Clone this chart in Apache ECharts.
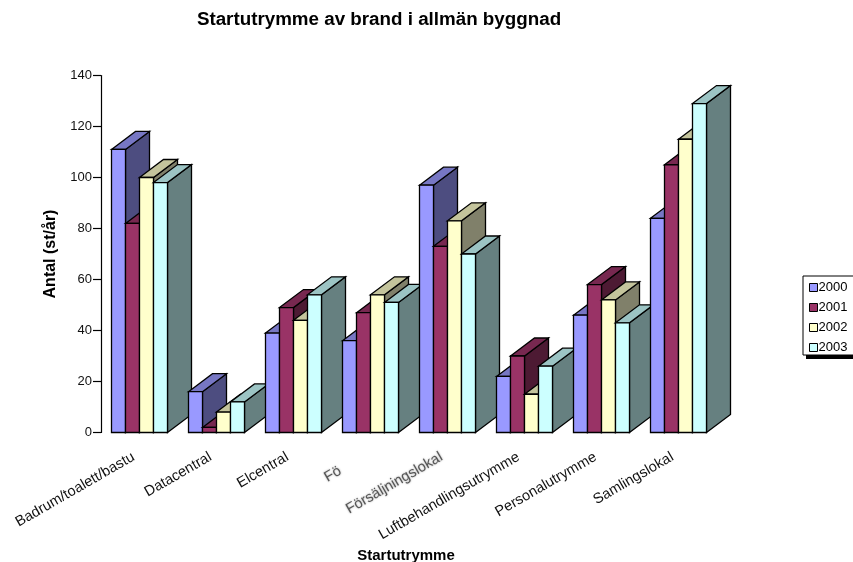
<!DOCTYPE html>
<html>
<head>
<meta charset="utf-8">
<style>html,body{margin:0;padding:0;background:#fff}#chart{width:853px;height:562px}</style>
<script src="https://cdn.jsdelivr.net/npm/echarts@6/dist/echarts.min.js"></script>
</head>
<body>
<div id="chart"></div>
<script>
const categories = ['Badrum/toalett/bastu','Datacentral','Elcentral','Fö','Försäljningslokal','Luftbehandlingsutrymme','Personalutrymme','Samlingslokal'];
const years = ['2000','2001','2002','2003'];
const values2000 = [111,16,39,36,97,22,46,84];
const values2001 = [82,2,49,47,73,30,58,105];
const values2002 = [100,8,44,54,83,15,52,115];
const values2003 = [98,12,54,51,70,26,43,129];
const yearValues = [values2000,values2001,values2002,values2003];
const frontColors = ['#9999FF','#993366','#FFFFCC','#CCFFFF'];
const topColors = ['#7777C4','#772850','#C4C49C','#9CC4C4'];
const sideColors = ['#4D4D80','#4D1A33','#80806A','#668080'];

const FONT = '"Liberation Sans", Arial, sans-serif';
const DEPTH_X = 24, DEPTH_Y = 18;   // oblique projection of the bar depth
const BAR_SHARE = 14 / 77;          // bar width as a share of the category band

function renderBar(seriesIndex) {
  return function (params, api) {
    const cat = api.value(0), val = api.value(1);
    const band = api.size([1, 0])[0];
    const w = band * BAR_SHARE;
    const base = api.coord([cat, 0]);
    const top = api.coord([cat, val]);
    const x0 = base[0] + (seriesIndex - 2) * w;
    const x1 = x0 + w;
    const yT = top[1], yB = base[1];
    const order = cat * 10 + seriesIndex;
    const line = {stroke: '#000', lineWidth: 1.3, lineJoin: 'miter'};
    return {
      type: 'group',
      children: [
        {type: 'polygon', z2: order,
         shape: {points: [[x1,yB],[x1+DEPTH_X,yB-DEPTH_Y],[x1+DEPTH_X,yT-DEPTH_Y],[x1,yT]]},
         style: Object.assign({fill: sideColors[seriesIndex]}, line)},
        {type: 'polygon', z2: order,
         shape: {points: [[x0,yT],[x0+DEPTH_X,yT-DEPTH_Y],[x1+DEPTH_X,yT-DEPTH_Y],[x1,yT]]},
         style: Object.assign({fill: topColors[seriesIndex]}, line)},
        {type: 'rect', z2: order,
         shape: {x: x0, y: yT, width: w, height: yB - yT},
         style: Object.assign({fill: frontColors[seriesIndex]}, line)}
      ]
    };
  };
}

const chart = echarts.init(document.getElementById('chart'), null, {renderer: 'canvas'});
chart.setOption({
  animation: false,
  backgroundColor: '#fff',
  textStyle: {fontFamily: FONT},
  title: {
    text: 'Startutrymme av brand i allmän byggnad',
    left: 374, top: 5, textAlign: 'center',
    textStyle: {fontFamily: FONT, fontSize: 18.8, fontWeight: 'bold', color: '#000'}
  },
  // drop shadow under the legend frame
  graphic: [{
    type: 'rect', z: 1, silent: true,
    shape: {x: 806, y: 279, width: 60, height: 80},
    style: {fill: '#000'}
  }],
  legend: {
    orient: 'vertical', left: 803, top: 276, z: 4,
    data: years, icon: 'rect', itemWidth: 8, itemHeight: 8, itemGap: 7,
    padding: [5, 14, 1, 6],
    backgroundColor: '#fff', borderColor: '#000', borderWidth: 1,
    selectedMode: false,
    textStyle: {fontFamily: FONT, fontSize: 13, color: '#000', padding: [0,0,0,-4]},
    itemStyle: {borderColor: '#000', borderWidth: 1}
  },
  grid: {left: 101, right: 136, top: 75.5, bottom: 129.5, outerBoundsMode: 'none'},
  xAxis: {
    type: 'category', data: categories,
    name: 'Startutrymme', nameLocation: 'middle', nameGap: 108,
    nameTextStyle: {fontFamily: FONT, fontSize: 15, fontWeight: 'bold', color: '#000', padding: [0, 6, 0, 0]},
    axisLine: {show: false}, axisTick: {show: false},
    axisLabel: {
      interval: 0, rotate: 30, margin: 20, color: '#000',
      fontFamily: FONT, fontSize: 14.6,
      formatter: function (v) {
        if (v === 'Fö') return '{cut|' + v + '}';
        if (v === 'Försäljningslokal') return '{soft|' + v + '}';
        return '{plain|' + v + '}';
      },
      rich: {
        plain: {color: '#111', fontFamily: FONT, fontSize: 14.6, padding: [0, 7, 0, 0]},
        cut: {color: '#555', fontFamily: FONT, fontSize: 14.6, padding: [0, 35, 0, 0],
              textShadowColor: 'rgba(0,0,0,0.4)', textShadowBlur: 2},
        soft: {color: '#555', fontFamily: FONT, fontSize: 14.6, padding: [0, 7, 0, 0],
               textShadowColor: 'rgba(0,0,0,0.4)', textShadowBlur: 2}
      }
    }
  },
  yAxis: {
    type: 'value', min: 0, max: 140, interval: 20,
    name: 'Antal (st/år)', nameLocation: 'middle', nameGap: 42, nameRotate: 90,
    nameTextStyle: {fontFamily: FONT, fontSize: 16, fontWeight: 'bold', color: '#000'},
    axisLine: {show: true, lineStyle: {color: '#000', width: 1.2}},
    axisTick: {show: true, length: 8, lineStyle: {color: '#000', width: 1.2}},
    axisLabel: {margin: 9, color: '#111', fontFamily: FONT, fontSize: 13},
    splitLine: {show: false}
  },
  series: years.map(function (y, i) {
    return {
      type: 'custom', name: y, clip: false,
      coordinateSystem: 'cartesian2d',
      encode: {x: 0, y: 1},
      itemStyle: {color: frontColors[i], borderColor: '#000', borderWidth: 1},
      data: yearValues[i].map(function (v, c) { return [c, v]; }),
      renderItem: renderBar(i)
    };
  })
});
</script>
</body>
</html>
